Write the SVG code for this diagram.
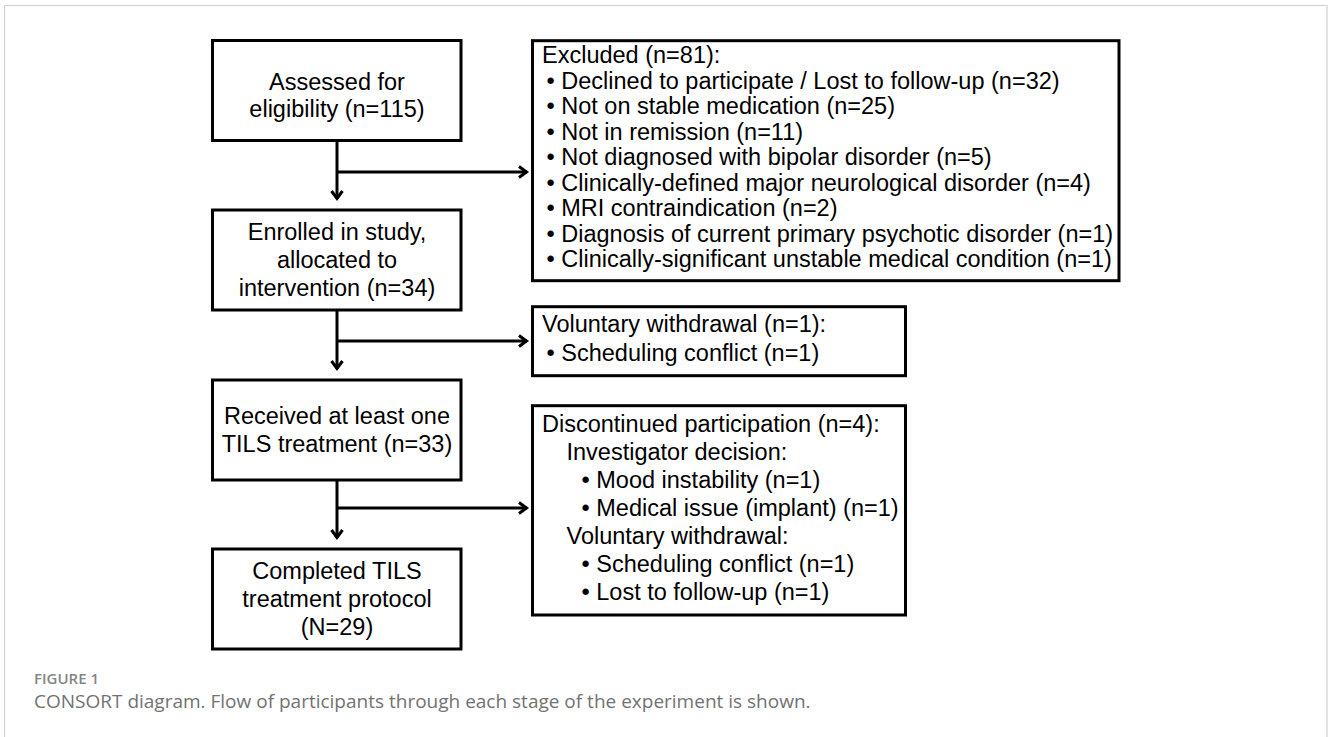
<svg xmlns="http://www.w3.org/2000/svg" width="1328" height="737" viewBox="0 0 1328 737">
  <style>
    .box { fill: #ffffff; stroke: #000000; stroke-width: 3; }
    .t { font-family: "Liberation Sans", Arial, sans-serif; font-size: 23.5px; fill: #000000; }
    .c { text-anchor: middle; }
    .conn { fill: none; stroke: #000000; stroke-width: 3; }
    .cap1 { font-family: "Open Sans", "Noto Sans", sans-serif; font-size: 15px; font-weight: 600; fill: #858585; }
    .cap2 { font-family: "Open Sans", "Noto Sans", sans-serif; font-size: 19px; fill: #727272; }
  </style>
  <defs>
    <marker id="arr" markerUnits="userSpaceOnUse" markerWidth="14" markerHeight="16" refX="11" refY="7" orient="auto">
      <path d="M3,1.5 L10.5,7 L3,12.5" fill="none" stroke="#000000" stroke-width="3" stroke-linejoin="miter"/>
    </marker>
  </defs>
  <rect x="0" y="0" width="1328" height="737" fill="#ffffff"/>
  <rect x="4.5" y="5.5" width="1322.5" height="760" fill="none" stroke="#d2d2d2" stroke-width="1.2"/>

  <g id="connectors">
    <line class="conn" x1="337" y1="140" x2="337" y2="199" marker-end="url(#arr)"/>
    <line class="conn" x1="337" y1="172" x2="527" y2="172" marker-end="url(#arr)"/>
    <line class="conn" x1="337" y1="310" x2="337" y2="369" marker-end="url(#arr)"/>
    <line class="conn" x1="337" y1="341" x2="527" y2="341" marker-end="url(#arr)"/>
    <line class="conn" x1="337" y1="480" x2="337" y2="538" marker-end="url(#arr)"/>
    <line class="conn" x1="337" y1="508" x2="527" y2="508" marker-end="url(#arr)"/>
  </g>

  <g id="assessed">
    <rect class="box" x="212.5" y="40.5" width="248.5" height="100"/>
    <text class="t c" x="337" y="90">Assessed for</text>
    <text class="t c" x="337" y="117">eligibility (n=115)</text>
  </g>

  <g id="enrolled">
    <rect class="box" x="212.5" y="210" width="248.5" height="100"/>
    <text class="t c" x="337" y="240">Enrolled in study,</text>
    <text class="t c" x="337" y="268">allocated to</text>
    <text class="t c" x="337" y="296">intervention (n=34)</text>
  </g>

  <g id="received">
    <rect class="box" x="212.5" y="380" width="248.5" height="100"/>
    <text class="t c" x="337" y="424">Received at least one</text>
    <text class="t c" x="337" y="452">TILS treatment (n=33)</text>
  </g>

  <g id="completed">
    <rect class="box" x="212.5" y="549" width="248.5" height="100"/>
    <text class="t c" x="337" y="579">Completed TILS</text>
    <text class="t c" x="337" y="607">treatment protocol</text>
    <text class="t c" x="337" y="635">(N=29)</text>
  </g>

  <g id="excluded">
    <rect class="box" x="532.5" y="40.7" width="586.5" height="240"/>
    <text class="t" x="542" y="63">Excluded (n=81):</text>
    <text class="t" x="546.5" y="88.5">• Declined to participate / Lost to follow-up (n=32)</text>
    <text class="t" x="546.5" y="114">• Not on stable medication (n=25)</text>
    <text class="t" x="546.5" y="139.5">• Not in remission (n=11)</text>
    <text class="t" x="546.5" y="165">• Not diagnosed with bipolar disorder (n=5)</text>
    <text class="t" x="546.5" y="190.5">• Clinically-defined major neurological disorder (n=4)</text>
    <text class="t" x="546.5" y="216">• MRI contraindication (n=2)</text>
    <text class="t" x="546.5" y="241.5">• Diagnosis of current primary psychotic disorder (n=1)</text>
    <text class="t" x="546.5" y="267">• Clinically-significant unstable medical condition (n=1)</text>
  </g>

  <g id="withdrawal">
    <rect class="box" x="532.5" y="306.7" width="373" height="69"/>
    <text class="t" x="542" y="332">Voluntary withdrawal (n=1):</text>
    <text class="t" x="546.5" y="361">• Scheduling conflict (n=1)</text>
  </g>

  <g id="discontinued">
    <rect class="box" x="532.5" y="405.7" width="373" height="209.3"/>
    <text class="t" x="542" y="432">Discontinued participation (n=4):</text>
    <text class="t" x="566.5" y="460">Investigator decision:</text>
    <text class="t" x="581.5" y="488">• Mood instability (n=1)</text>
    <text class="t" x="581.5" y="516">• Medical issue (implant) (n=1)</text>
    <text class="t" x="566.5" y="544">Voluntary withdrawal:</text>
    <text class="t" x="581.5" y="572">• Scheduling conflict (n=1)</text>
    <text class="t" x="581.5" y="600">• Lost to follow-up (n=1)</text>
  </g>

  <g id="caption">
    <text class="cap1" x="34" y="684">FIGURE 1</text>
    <text class="cap2" x="34" y="708">CONSORT diagram. Flow of participants through each stage of the experiment is shown.</text>
  </g>
</svg>
